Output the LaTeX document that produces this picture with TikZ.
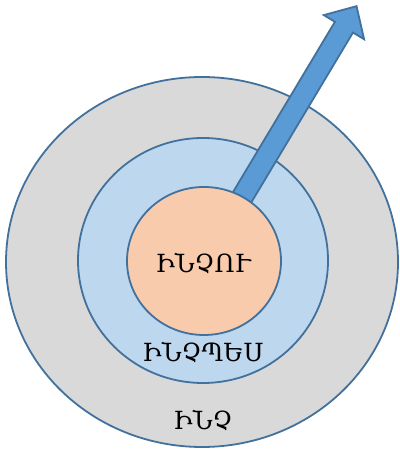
\documentclass[tikz,border=0pt]{standalone}
\usepackage{fontspec}
\setmainfont{DejaVu Serif}
\usetikzlibrary{shapes.geometric}
\definecolor{edgeblue}{HTML}{41719C}
\definecolor{outerfill}{HTML}{D9D9D9}
\definecolor{midfill}{HTML}{BDD7EE}
\definecolor{innerfill}{HTML}{F8CBAD}
\definecolor{arrowfill}{HTML}{5B9BD5}
\tikzset{
  ring/.style={ellipse, draw=edgeblue, line width=1.8pt, inner sep=0pt},
  lbl/.style={font=\fontsize{25}{29}\selectfont, text=black, inner sep=0pt},
}
\begin{document}
\begin{tikzpicture}[x=1pt,y=1pt]
\useasboundingbox (0,0) rectangle (399,449);
\node[ring, fill=outerfill, minimum width=392pt, minimum height=370pt] (outer) at (202,187) {};
\node[ring, fill=midfill, minimum width=250pt, minimum height=245pt] (mid) at (203,188.5) {};
\coordinate (c) at (204,188);
\begin{scope}[shift={(c)}, rotate=59.1]
  \draw[fill=arrowfill, draw=edgeblue, line width=1.8pt, line join=miter]
    (0,-10.5) -- (272.5,-10.5) -- (272.5,-23.5) -- (297,0) -- (272.5,23.5) -- (272.5,10.5) -- (0,10.5) -- cycle;
  \coordinate (tip) at (297,0);
\end{scope}
\node[ring, fill=innerfill, minimum width=154pt, minimum height=148pt] (inner) at (c) {};
\node[lbl] (why) at (203,186) {ԻՆՉՈՒ};
\node[lbl] (how) at (203,97) {ԻՆՉՊԵՍ};
\node[lbl] (what) at (203,29) {ԻՆՉ};
\end{tikzpicture}
\end{document}
